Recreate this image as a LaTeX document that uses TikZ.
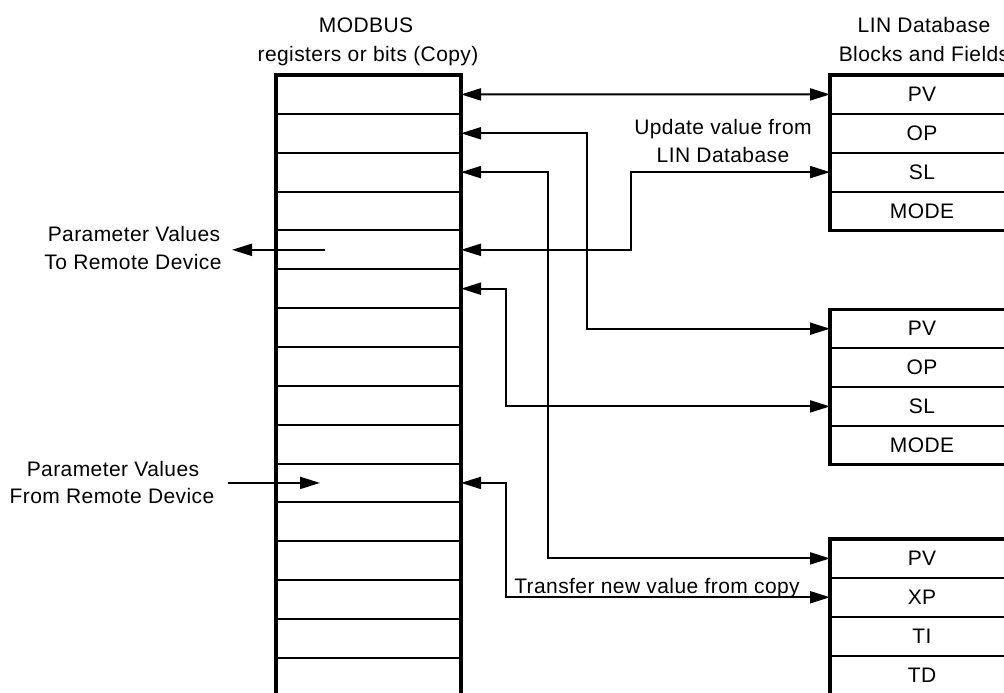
\documentclass[tikz,border=0pt]{standalone}
\usepackage{fontspec}
\setmainfont{Liberation Sans}[LetterSpace=2]
\usetikzlibrary{arrows.meta,calc,positioning}
\tikzset{
  regrow/.style={draw, line width=2pt, minimum width=185pt, minimum height=38.85pt, inner sep=0pt, outer sep=0pt},
  linrow/.style={regrow, minimum width=184pt, font=\fontsize{21}{25}\selectfont},
  lbl/.style={font=\fontsize{21}{25}\selectfont, inner sep=0pt, anchor=base},
  frame/.style={line width=3.3pt},
  conn/.style={line width=2pt, {Triangle[length=20pt,width=12pt]}-{Triangle[length=20pt,width=12pt]}},
  oneway/.style={line width=2pt, -{Triangle[length=20pt,width=12pt]}}
}
\begin{document}
\begin{tikzpicture}[x=1pt,y=-1pt]
\useasboundingbox (0,0) rectangle (1004,693);
\clip (0,0) rectangle (1004,693);
% MODBUS table
\foreach \i in {1,...,16}
  \node[regrow] (m\i) at (368.5,{75+38.85*(\i-0.5)}) {};
\draw[frame] (m1.north west) rectangle (m16.south east);
% LIN block 1
\node[linrow] (l1pv) at (922,94.4) {PV};
\node[linrow, below=0pt of l1pv] (l1op) {OP};
\node[linrow, below=0pt of l1op] (l1sl) {SL};
\node[linrow, below=0pt of l1sl] (l1mode) {MODE};
\draw[frame] (l1pv.north west) rectangle (l1mode.south east);
% LIN block 2
\node[linrow] (l2pv) at (922,328.7) {PV};
\node[linrow, below=0pt of l2pv] (l2op) {OP};
\node[linrow, below=0pt of l2op] (l2sl) {SL};
\node[linrow, below=0pt of l2sl] (l2mode) {MODE};
\draw[frame] (l2pv.north west) rectangle (l2mode.south east);
% LIN block 3
\node[linrow] (l3pv) at (922,558.4) {PV};
\node[linrow, below=0pt of l3pv] (l3xp) {XP};
\node[linrow, below=0pt of l3xp] (l3ti) {TI};
\node[linrow, below=0pt of l3ti] (l3td) {TD};
\draw[frame] (l3pv.north west) rectangle (l3td.south east);
% titles
\node[lbl] (tMod) at (366,33) {MODBUS};
\node[lbl] (tReg) at (368,62) {registers or bits (Copy)};
\node[lbl] (tLin) at (924,33) {LIN Database};
\node[lbl] (tBlk) at (924,62) {Blocks and Fields};
\node[lbl] (tUpd1) at (723,134) {Update value from};
\node[lbl] (tUpd2) at (723,162) {LIN Database};
\node[lbl] (tTo1) at (134,241.7) {Parameter Values};
\node[lbl] (tTo2) at (133,269) {To Remote Device};
\node[lbl] (tFr1) at (113,476.7) {Parameter Values};
\node[lbl] (tFr2) at (112,503) {From Remote Device};
\node[lbl] (tXfer) at (657,593) {Transfer new value from copy};
% remote device arrows
\coordinate (toStart) at ($(m5.west)+(49,0)$);
\coordinate (toRemote) at ($(m5.west)+(-44,0)$);
\draw[oneway] (toStart) -- (toRemote);
\coordinate (fromRemote) at ($(m11.west)+(-48,0)$);
\coordinate (fromEnd) at ($(m11.west)+(44,0)$);
\draw[oneway] (fromRemote) -- (fromEnd);
% connectors
\draw[conn] (m1.east) -- (l1pv.west);
\draw[conn] (m2.east) -- ++(126,0) |- (l2pv.west);
\draw[conn] (m3.east) -- ++(87,0) |- (l3pv.west);
\draw[conn] (m5.east) -- ++(170,0) |- (l1sl.west);
\draw[conn] (m6.east) -- ++(45,0) |- (l2sl.west);
\draw[conn] (m11.east) -- ++(45,0) |- (l3xp.west);
\end{tikzpicture}
\end{document}
